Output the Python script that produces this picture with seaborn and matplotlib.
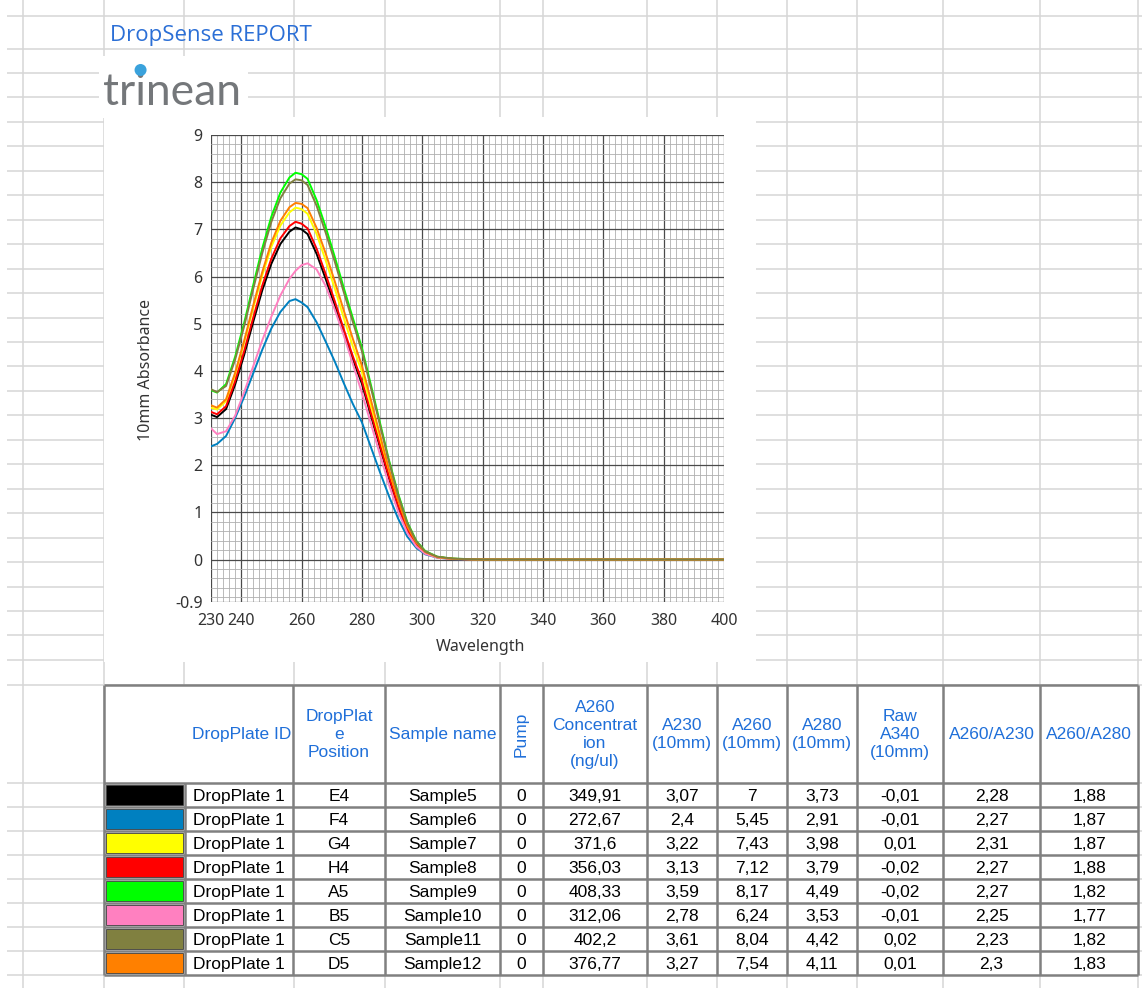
import pandas as pd
import numpy as np
import matplotlib
matplotlib.use('Agg')
import matplotlib.pyplot as plt
from matplotlib.patches import Rectangle, Circle
from matplotlib.ticker import MultipleLocator
import seaborn as sns

# spectra (10mm absorbance vs wavelength)
wavelengths = [230, 232, 235, 238, 241, 244, 247, 250, 253, 256, 258, 260, 262, 265, 268, 271, 274,
               277, 280, 283, 286, 289, 292, 295, 298, 301, 305, 310, 320, 340, 360, 380, 400]
abs_e4 = [3.07, 3.02, 3.19, 3.71, 4.34, 5.04, 5.71, 6.27, 6.69, 6.95, 7.04, 7.0, 6.9, 6.48, 5.95, 5.39, 4.8,
          4.24, 3.73, 3.05, 2.38, 1.72, 1.12, 0.63, 0.32, 0.14, 0.05, 0.015, 0, 0, 0, 0, 0]
abs_f4 = [2.4, 2.45, 2.62, 3.0, 3.45, 3.95, 4.45, 4.9, 5.25, 5.48, 5.52, 5.45, 5.35, 5.03, 4.62, 4.2, 3.74,
          3.3, 2.91, 2.38, 1.85, 1.34, 0.87, 0.49, 0.25, 0.11, 0.04, 0.01, 0, 0, 0, 0, 0]
abs_g4 = [3.22, 3.18, 3.36, 3.92, 4.6, 5.33, 6.03, 6.63, 7.08, 7.36, 7.46, 7.43, 7.33, 6.9, 6.34, 5.75, 5.12,
          4.52, 3.98, 3.25, 2.54, 1.83, 1.2, 0.67, 0.34, 0.15, 0.05, 0.015, 0, 0, 0, 0, 0]
abs_h4 = [3.13, 3.08, 3.25, 3.78, 4.42, 5.13, 5.81, 6.38, 6.81, 7.07, 7.16, 7.12, 7.02, 6.59, 6.05, 5.48, 4.88,
          4.31, 3.79, 3.1, 2.42, 1.75, 1.14, 0.64, 0.33, 0.14, 0.05, 0.015, 0, 0, 0, 0, 0]
abs_a5 = [3.59, 3.54, 3.72, 4.3, 5.02, 5.82, 6.6, 7.27, 7.78, 8.1, 8.2, 8.17, 8.07, 7.62, 7.05, 6.42, 5.76,
          5.12, 4.49, 3.7, 2.9, 2.1, 1.4, 0.8, 0.4, 0.18, 0.06, 0.02, 0, 0, 0, 0, 0]
abs_b5 = [2.78, 2.66, 2.72, 3.05, 3.55, 4.1, 4.65, 5.15, 5.6, 5.95, 6.12, 6.24, 6.28, 6.15, 5.8, 5.3, 4.75,
          4.15, 3.53, 2.88, 2.22, 1.58, 1.02, 0.57, 0.28, 0.12, 0.04, 0.01, 0, 0, 0, 0, 0]
abs_c5 = [3.61, 3.55, 3.68, 4.24, 4.95, 5.74, 6.5, 7.16, 7.66, 7.97, 8.06, 8.04, 7.94, 7.5, 6.93, 6.32, 5.67,
          5.04, 4.42, 3.64, 2.85, 2.07, 1.37, 0.78, 0.39, 0.17, 0.06, 0.02, 0, 0, 0, 0, 0]
abs_d5 = [3.27, 3.22, 3.4, 3.96, 4.64, 5.39, 6.1, 6.72, 7.18, 7.47, 7.56, 7.54, 7.45, 7.03, 6.49, 5.9, 5.28,
          4.68, 4.11, 3.38, 2.64, 1.91, 1.26, 0.71, 0.36, 0.16, 0.05, 0.015, 0, 0, 0, 0, 0]

# report table
positions = ['E4', 'F4', 'G4', 'H4', 'A5', 'B5', 'C5', 'D5']
sample_names = ['Sample5', 'Sample6', 'Sample7', 'Sample8', 'Sample9', 'Sample10', 'Sample11', 'Sample12']
plate_ids = ['DropPlate 1'] * 8
pump = ['0', '0', '0', '0', '0', '0', '0', '0']
concentration = ['349,91', '272,67', '371,6', '356,03', '408,33', '312,06', '402,2', '376,77']
a230 = ['3,07', '2,4', '3,22', '3,13', '3,59', '2,78', '3,61', '3,27']
a260 = ['7', '5,45', '7,43', '7,12', '8,17', '6,24', '8,04', '7,54']
a280 = ['3,73', '2,91', '3,98', '3,79', '4,49', '3,53', '4,42', '4,11']
raw_a340 = ['-0,01', '-0,01', '0,01', '-0,02', '-0,02', '-0,01', '0,02', '0,01']
ratio_260_230 = ['2,28', '2,27', '2,31', '2,27', '2,27', '2,25', '2,23', '2,3']
ratio_260_280 = ['1,88', '1,87', '1,87', '1,88', '1,82', '1,77', '1,82', '1,83']
sample_colors = ['#000000', '#0080c0', '#ffff00', '#ff0000', '#00ff00', '#ff80c0', '#808040', '#ff8000']

header_labels = ['DropPlate ID', 'DropPlat\ne\nPosition', 'Sample name', 'Pump',
                 'A260\nConcentrat\nion\n(ng/ul)', 'A230\n(10mm)', 'A260\n(10mm)', 'A280\n(10mm)',
                 'Raw\nA340\n(10mm)', 'A260/A230', 'A260/A280']

spectra = [abs_e4, abs_f4, abs_g4, abs_h4, abs_a5, abs_b5, abs_c5, abs_d5]
df = pd.DataFrame({
    'Wavelength': wavelengths * len(positions),
    'Absorbance': np.concatenate(spectra),
    'Position': np.repeat(positions, len(wavelengths)),
})
# olive trace ends up on top of the flat tail in the report
draw_order = ['E4', 'F4', 'G4', 'H4', 'A5', 'B5', 'D5', 'C5']

sns.set_style('white')
plt.rcParams['font.family'] = ['Liberation Sans', 'DejaVu Sans']

W, H = 1142, 988
fig = plt.figure(figsize=(W / 100, H / 100), dpi=100)

# sheet background (pixel coordinates)
bg = fig.add_axes([0, 0, 1, 1])
bg.set_xlim(0, W)
bg.set_ylim(H, 0)
bg.axis('off')

grid_c = '#d6d6d6'
row_lines = [16, 49, 73, 97.5] + [122 + 24.45 * k for k in range(23)] + [685] + [783 + 24 * k for k in range(9)]
col_lines = [23, 103.5, 184, 294, 385, 500, 543, 647, 717, 787, 857, 943, 1040, 1138]
bg.hlines(row_lines, 7, W, color=grid_c, lw=1.1, zorder=0)
bg.vlines(col_lines, 0, H, color=grid_c, lw=1.1, zorder=0)

# chart area and logo block cover the sheet grid
bg.add_patch(Rectangle((103.5, 117), 756 - 103.5, 662 - 117, facecolor='white', edgecolor='none', zorder=1))
bg.add_patch(Rectangle((99, 56), 248 - 99, 62, facecolor='white', edgecolor='none', zorder=1))

bg.text(110, 35, 'DropSense REPORT', fontsize=16, color='#2b6fd6', va='center', ha='left',
        family=['Open Sans', 'DejaVu Sans'], zorder=2)
logo_kw = dict(fontsize=32, color='#74777a', va='baseline', ha='left', family=['Lato', 'DejaVu Sans'], zorder=2)
bg.text(103, 105, 'trinean', **logo_kw)
# blue ball sits on the "i"
fig.canvas.draw()
rend = fig.canvas.get_renderer()
tmp1 = bg.text(103, 105, 'tr', **logo_kw)
tmp2 = bg.text(103, 105, 'tri', **logo_kw)
i_x = (tmp1.get_window_extent(rend).x1 + tmp2.get_window_extent(rend).x1) / 2
tmp1.remove()
tmp2.remove()
bg.add_patch(Circle((i_x, 70), 6, facecolor='#3aa2dc', edgecolor='none', zorder=3))

# table
tcols = [104, 185, 293, 385, 500, 543, 647, 717, 787, 857, 943, 1040, 1138]
t_top, h_bot, row_h = 685, 783, 24
t_bot = h_bot + row_h * len(positions)
border_c = '#808080'
bg.add_patch(Rectangle((tcols[0], t_top), tcols[-1] - tcols[0], t_bot - t_top,
                       facecolor='white', edgecolor='none', zorder=2))
for i, x in enumerate(tcols):
    y0 = h_bot if i == 1 else t_top
    bg.vlines(x, y0, t_bot, color=border_c, lw=1.8, zorder=4)
for y in [t_top, h_bot] + [h_bot + row_h * (k + 1) for k in range(len(positions))]:
    bg.hlines(y, tcols[0], tcols[-1], color=border_c, lw=1.8, zorder=4)

head_c = '#1f6fd9'
head_y = (t_top + h_bot) / 2
fs = 12.5
for j, lab in enumerate(header_labels):
    if j == 0:
        bg.text(tcols[2] - 2, head_y, lab, fontsize=fs, color=head_c, ha='right', va='center', zorder=5)
    elif lab == 'Pump':
        bg.text((tcols[4] + tcols[5]) / 2, head_y, lab, fontsize=fs, color=head_c, ha='center',
                va='center', rotation=90, zorder=5)
    else:
        xc = (tcols[j + 1] + tcols[j + 2]) / 2
        bg.text(xc, head_y, lab, fontsize=fs, color=head_c, ha='center', va='center',
                multialignment='center', linespacing=1.25, zorder=5)

columns = [plate_ids, positions, sample_names, pump, concentration, a230, a260, a280,
           raw_a340, ratio_260_230, ratio_260_280]
for i in range(len(positions)):
    top = h_bot + row_h * i
    yc = top + row_h / 2 + 1
    bg.add_patch(Rectangle((tcols[0] + 2, top + 2), tcols[1] - tcols[0] - 4, row_h - 4,
                           facecolor=sample_colors[i], edgecolor='#3c3c3c', lw=0.6, zorder=3))
    for j, col in enumerate(columns):
        xc = (tcols[j + 1] + tcols[j + 2]) / 2
        bg.text(xc, yc, col[i], fontsize=fs, color='black', ha='center', va='center', zorder=5)

# spectrum chart
ax = fig.add_axes([211 / W, 1 - 602 / H, (724 - 211) / W, (602 - 135) / H])
ax.set_zorder(3)
sns.lineplot(data=df, x='Wavelength', y='Absorbance', hue='Position', hue_order=draw_order,
             palette=dict(zip(positions, sample_colors)), estimator=None, sort=False,
             lw=1.4, legend=False, ax=ax)

ax.set_xlim(230, 400)
ax.set_ylim(-0.9, 9)
ax.set_xticks([230, 240, 260, 280, 300, 320, 340, 360, 380, 400])
yt = [-0.9, 0, 1, 2, 3, 4, 5, 6, 7, 8, 9]
ax.set_yticks(yt)
ax.set_yticklabels(['-0.9'] + [str(v) for v in yt[1:]])
ax.xaxis.set_minor_locator(MultipleLocator(2))
ax.yaxis.set_minor_locator(MultipleLocator(0.2))
ax.grid(which='minor', color='#b0b0b0', lw=0.6, zorder=0)
ax.grid(which='major', color='#4a4a4a', lw=0.9, zorder=0)
ax.set_axisbelow(True)
for s in ax.spines.values():
    s.set_visible(False)

chart_font = ['Noto Sans', 'DejaVu Sans']
ax.tick_params(which='major', length=4, width=0.8, color='#606060', labelsize=11.5,
               labelcolor='#333333')
ax.tick_params(axis='x', which='major', pad=4)
ax.tick_params(axis='y', which='major', pad=2)
ax.tick_params(which='minor', length=0)
for lab in ax.get_xticklabels() + ax.get_yticklabels():
    lab.set_family(chart_font)

ax.set_xlabel('Wavelength', fontsize=11.5, color='#333333', family=chart_font)
ax.set_ylabel('10mm Absorbance', fontsize=11.5, color='#333333', family=chart_font)
ax.xaxis.set_label_coords((481 - 211) / 513, (602 - 647) / 467)
ax.xaxis.label.set_va('center')
ax.yaxis.set_label_coords((146 - 211) / 513, (602 - 370) / 467)
ax.yaxis.label.set_va('center')

fig.savefig('out.png', dpi=100)
